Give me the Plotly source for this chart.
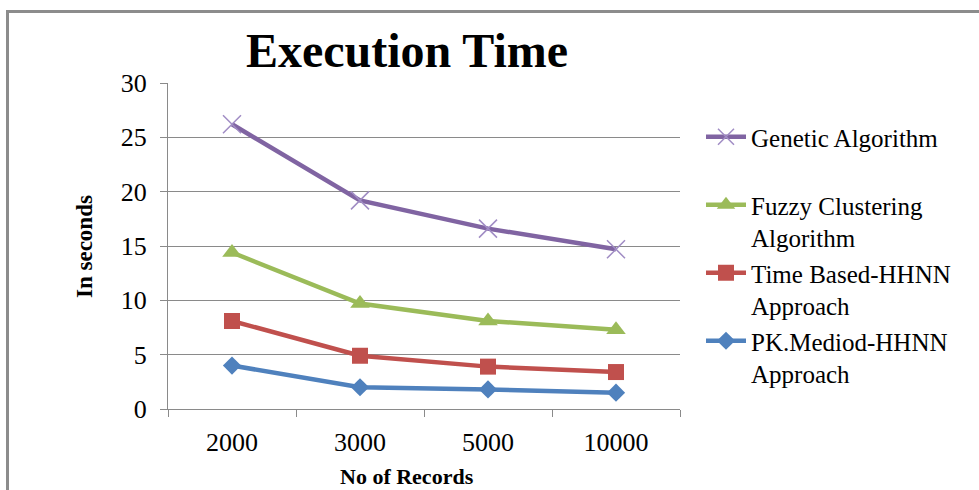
import plotly.graph_objects as go

categories = ["2000", "3000", "5000", "10000"]
genetic = [26.2, 19.2, 16.6, 14.7]
fuzzy = [14.4, 9.7, 8.1, 7.3]
time_based = [8.1, 4.9, 3.9, 3.4]
pk_mediod = [4.0, 2.0, 1.8, 1.5]
y_ticks = [0, 5, 10, 15, 20, 25, 30]

W, H = 979, 490
L, R, T, B = 168, 299, 83, 81
PW, PH = W - L - R, H - T - B

def px(x):
    return (x - L) / PW

def py(y):
    return (H - B - y) / PH

FONT = "Liberation Serif, Times New Roman, serif"

fig = go.Figure()
series = [
    ("Genetic Algorithm<br> ", genetic, "#8064A2",
     dict(symbol="x-thin", size=18, line=dict(color="#A08CC4", width=1.5), color="#A08CC4")),
    ("Fuzzy Clustering<br>Algorithm", fuzzy, "#9BBB59",
     dict(symbol="triangle-up", size=17, color="#9BBB59")),
    ("Time Based-HHNN<br>Approach", time_based, "#C0504D",
     dict(symbol="square", size=16, color="#C0504D")),
    ("PK.Mediod-HHNN<br>Approach", pk_mediod, "#4F81BD",
     dict(symbol="diamond", size=14, color="#4F81BD")),
]
for name, vals, col, mk in series:
    fig.add_trace(go.Scatter(
        x=categories, y=vals, name=name, mode="lines+markers",
        line=dict(color=col, width=4.5), marker=mk,
    ))

grid = "#8a8a8a"
fig.update_layout(
    width=W, height=H,
    margin=dict(l=L, r=R, t=T, b=B),
    paper_bgcolor="white", plot_bgcolor="white",
    font=dict(family=FONT, color="black"),
    title=dict(text="<b>Execution Time</b>", x=407 / W, xanchor="center",
               y=1 - 50 / H, yanchor="middle", yref="container",
               font=dict(size=48, family=FONT, color="black")),
    xaxis=dict(type="category", range=[-0.5, 3.5], showgrid=False,
               showline=True, linecolor=grid, linewidth=1,
               ticks="outside", tickson="boundaries", ticklen=7, tickcolor=grid,
               tickfont=dict(size=26, family=FONT), ticklabelstandoff=10),
    yaxis=dict(range=[0, 30], tickvals=y_ticks, showgrid=True, gridcolor=grid, gridwidth=1,
               showline=True, linecolor=grid, linewidth=1, zeroline=False,
               ticks="outside", ticklen=7, tickcolor=grid,
               tickfont=dict(size=26, family=FONT), ticklabelstandoff=8),
    legend=dict(x=px(701), y=py(114), xanchor="left", yanchor="top",
                font=dict(size=25, family=FONT, color="black"),
                valign="top", bgcolor="rgba(0,0,0,0)", itemwidth=40,
                tracegroupgap=0),
    annotations=[
        dict(text="<b>No of Records</b>", x=px(407), y=py(476), xref="paper", yref="paper",
             xanchor="center", yanchor="middle", showarrow=False,
             font=dict(size=22, family=FONT)),
        dict(text="<b>In seconds</b>", x=px(84), y=py(247), xref="paper", yref="paper",
             xanchor="center", yanchor="middle", showarrow=False, textangle=-90,
             font=dict(size=23, family=FONT)),
    ],
    shapes=[
        dict(type="line", xref="paper", yref="paper", x0=px(7.5), x1=px(7.5), y0=py(10), y1=py(495),
             line=dict(color="#8c8c8c", width=3)),
        dict(type="line", xref="paper", yref="paper", x0=px(6), x1=px(990), y0=py(11.5), y1=py(11.5),
             line=dict(color="#8c8c8c", width=3)),
    ],
)

fig.write_html("out.html", config={"displayModeBar": False},
               post_script="document.body.style.margin='0';document.body.style.overflow='hidden';")
